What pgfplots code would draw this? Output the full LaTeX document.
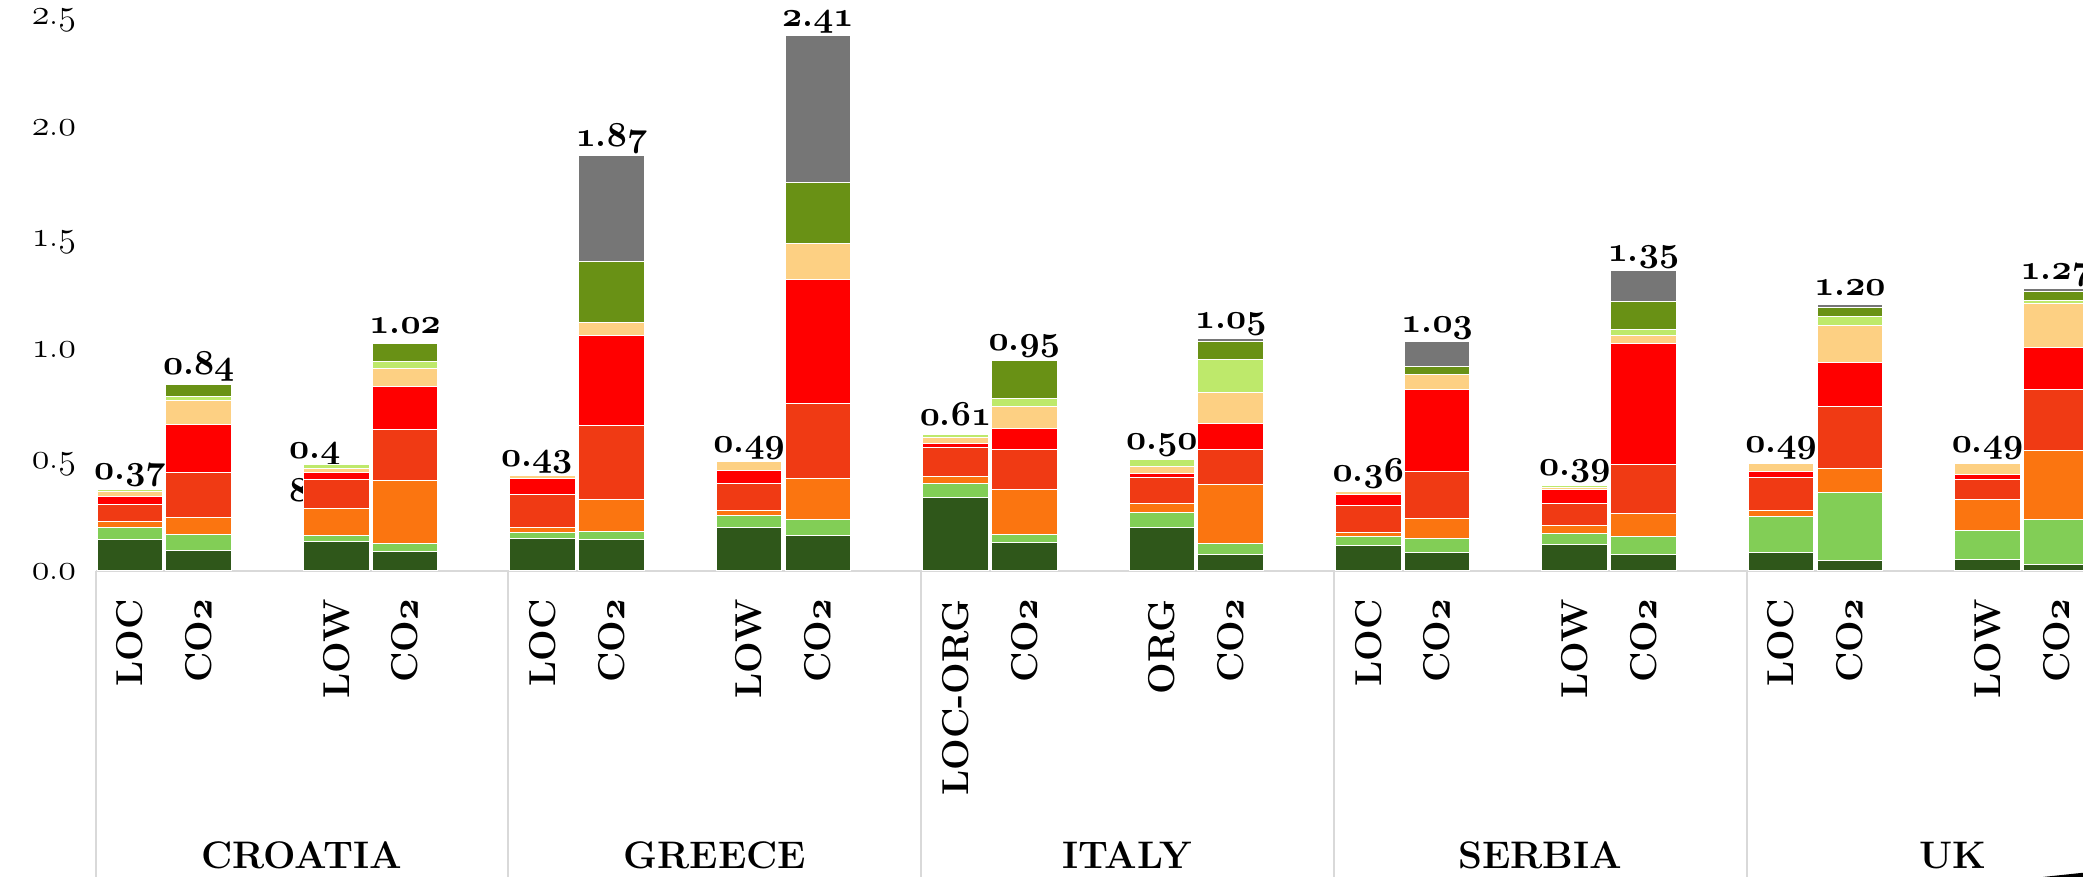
\documentclass[border=0pt]{standalone}
\usepackage{pgfplots}
\pgfplotsset{compat=1.18}
\usetikzlibrary{calc}
\definecolor{cDG}{HTML}{2F571A}
\definecolor{cLG}{HTML}{82CE56}
\definecolor{cOR}{HTML}{FB7510}
\definecolor{cRO}{HTML}{F03A14}
\definecolor{cRD}{HTML}{FF0000}
\definecolor{cPE}{HTML}{FDD083}
\definecolor{cLI}{HTML}{BEE96B}
\definecolor{cOL}{HTML}{699115}
\definecolor{cGR}{HTML}{767676}
\definecolor{cSEP}{HTML}{D9D9D9}
\DeclareFontFamily{OML}{mycmm}{\skewchar\font=127 }
\DeclareFontShape{OML}{mycmm}{m}{it}{<-> cmmi12}{}
\DeclareFontShape{OML}{mycmm}{b}{it}{<-> cmmib10}{}
\DeclareRobustCommand\ob[1]{{\usefont{OML}{mycmm}{b}{it}#1}}
\DeclareRobustCommand\om[1]{{\usefont{OML}{mycmm}{m}{it}#1}}
\DeclareRobustCommand\vl[2]{\ob{#1}.\ob{#2}}
\tikzset{
  vlab/.style={anchor=base, yshift=4.75pt, inner sep=0pt, font=\bfseries\fontsize{17.5}{20}\selectfont},
  clab/.style={anchor=base, inner sep=0pt, yshift=-148.65pt, font=\bfseries\fontsize{19.2}{22}\selectfont},
  sep/.style={draw=cSEP, line width=1pt},
}
\pgfplotsset{bst/.style={draw=white, line width=0.5pt}}
\begin{document}
\begin{tikzpicture}
\begin{axis}[
  name=ax,
  scale only axis,
  width=993.75pt, height=277.6pt,
  xmin=0, xmax=28.888, ymin=0, ymax=2.5,
  ybar stacked, bar width=0.955,
  clip=false,
  axis x line*=bottom, axis y line*=left,
  x axis line style={draw=cSEP, line width=1pt},
  y axis line style={draw=none},
  major tick length=0pt,
  xtick style={draw=none}, ytick style={draw=none},
  xtick={0.5,1.5,3.5,4.5,6.5,7.5,9.5,10.5,12.5,13.5,15.5,16.5,18.5,19.5,21.5,22.5,24.5,25.5,27.5,28.5},
  xticklabels={LOC,CO\ob{2},LOW,CO\ob{2},LOC,CO\ob{2},LOW,CO\ob{2},LOC-ORG,CO\ob{2},ORG,CO\ob{2},LOC,CO\ob{2},LOW,CO\ob{2},LOC,CO\ob{2},LOW,CO\ob{2}},
  xticklabel style={font=\bfseries\fontsize{18.7}{21}\selectfont, yshift=-14pt, rotate=90, anchor=east, inner sep=0pt},
  ytick={0,0.5,1,1.5,2,2.5},
  yticklabels={\om{0}.\om{0},\om{0}.\om{5},\om{1}.\om{0},\om{1}.\om{5},\om{2}.\om{0},\om{2}.\om{5}},
  yticklabel style={font=\fontsize{18}{21}\selectfont, anchor=base east, inner sep=0pt, xshift=-9.5pt, yshift=-4.5pt},
]
% dark green
\addplot[bst, fill=cDG] coordinates {(0.5,.143) (1.5,.093) (3.5,.134) (4.5,.086) (6.5,.144) (7.5,.140) (9.5,.194) (10.5,.158) (12.5,.333) (13.5,.128) (15.5,.194) (16.5,.072) (18.5,.113) (19.5,.083) (21.5,.120) (22.5,.075) (24.5,.083) (25.5,.045) (27.5,.053) (28.5,.027)};
% light green
\addplot[bst, fill=cLG] coordinates {(0.5,.054) (1.5,.072) (3.5,.026) (4.5,.038) (6.5,.030) (7.5,.039) (9.5,.056) (10.5,.072) (12.5,.062) (13.5,.038) (15.5,.071) (16.5,.050) (18.5,.041) (19.5,.065) (21.5,.050) (22.5,.078) (24.5,.162) (25.5,.309) (27.5,.128) (28.5,.206)};
% orange
\addplot[bst, fill=cOR] coordinates {(0.5,.027) (1.5,.075) (3.5,.119) (4.5,.284) (6.5,.021) (7.5,.141) (9.5,.021) (10.5,.188) (12.5,.029) (13.5,.200) (15.5,.038) (16.5,.267) (18.5,.020) (19.5,.087) (21.5,.036) (22.5,.104) (24.5,.026) (25.5,.107) (27.5,.140) (28.5,.311)};
% red-orange
\addplot[bst, fill=cRO] coordinates {(0.5,.077) (1.5,.204) (3.5,.135) (4.5,.231) (6.5,.150) (7.5,.333) (9.5,.125) (10.5,.338) (12.5,.131) (13.5,.179) (15.5,.120) (16.5,.159) (18.5,.119) (19.5,.212) (21.5,.099) (22.5,.221) (24.5,.152) (25.5,.278) (27.5,.090) (28.5,.272)};
% red
\addplot[bst, fill=cRD] coordinates {(0.5,.036) (1.5,.216) (3.5,.029) (4.5,.192) (6.5,.071) (7.5,.405) (9.5,.057) (10.5,.555) (12.5,.020) (13.5,.096) (15.5,.017) (16.5,.116) (18.5,.050) (19.5,.368) (21.5,.062) (22.5,.545) (24.5,.024) (25.5,.201) (27.5,.023) (28.5,.189)};
% peach
\addplot[bst, fill=cPE] coordinates {(0.5,.020) (1.5,.107) (3.5,.017) (4.5,.081) (6.5,.012) (7.5,.060) (9.5,.039) (10.5,.165) (12.5,.027) (13.5,.101) (15.5,.029) (16.5,.138) (18.5,.015) (19.5,.069) (21.5,.008) (22.5,.039) (24.5,.038) (25.5,.167) (27.5,.052) (28.5,.198)};
% lime
\addplot[bst, fill=cLI] coordinates {(0.5,.011) (1.5,.020) (3.5,.018) (4.5,.030) (6.5,0) (7.5,0) (9.5,0) (10.5,0) (12.5,.012) (13.5,.033) (15.5,.033) (16.5,.152) (18.5,0) (19.5,0) (21.5,.012) (22.5,.027) (24.5,.005) (25.5,.039) (27.5,.003) (28.5,.014)};
% olive
\addplot[bst, fill=cOL] coordinates {(0.5,0) (1.5,.053) (3.5,0) (4.5,.083) (6.5,0) (7.5,.275) (9.5,0) (10.5,.275) (12.5,0) (13.5,.171) (15.5,0) (16.5,.080) (18.5,0) (19.5,.038) (21.5,0) (22.5,.125) (24.5,0) (25.5,.041) (27.5,0) (28.5,.042)};
% gray
\addplot[bst, fill=cGR] coordinates {(0.5,0) (1.5,0) (3.5,0) (4.5,0) (6.5,0) (7.5,.477) (9.5,0) (10.5,.660) (12.5,0) (13.5,.006) (15.5,0) (16.5,.014) (18.5,0) (19.5,.111) (21.5,0) (22.5,.138) (24.5,0) (25.5,.012) (27.5,0) (28.5,.011)};
\draw[sep] (axis cs:0,0) -- ++(0pt,-153pt);
\draw[sep] (axis cs:6,0) -- ++(0pt,-153pt);
\draw[sep] (axis cs:12,0) -- ++(0pt,-153pt);
\draw[sep] (axis cs:18,0) -- ++(0pt,-153pt);
\draw[sep] (axis cs:24,0) -- ++(0pt,-153pt);
\node[vlab] at (axis cs:0.5,0.368) {\vl{0}{37}};
\node[vlab] at (axis cs:1.5,0.840) {\vl{0}{84}};
\node[vlab] at (axis cs:4.5,1.025) {\vl{1}{02}};
\node[vlab, xshift=-3pt] at (axis cs:6.5,0.428) {\vl{0}{43}};
\node[vlab] at (axis cs:7.5,1.870) {\vl{1}{87}};
\node[vlab] at (axis cs:9.5,0.492) {\vl{0}{49}};
\node[vlab] at (axis cs:10.5,2.411) {\vl{2}{41}};
\node[vlab] at (axis cs:12.5,0.614) {\vl{0}{61}};
\node[vlab] at (axis cs:13.5,0.952) {\vl{0}{95}};
\node[vlab] at (axis cs:15.5,0.502) {\vl{0}{50}};
\node[vlab] at (axis cs:16.5,1.048) {\vl{1}{05}};
\node[vlab] at (axis cs:18.5,0.358) {\vl{0}{36}};
\node[vlab] at (axis cs:19.5,1.033) {\vl{1}{03}};
\node[vlab] at (axis cs:21.5,0.387) {\vl{0}{39}};
\node[vlab] at (axis cs:22.5,1.352) {\vl{1}{35}};
\node[vlab] at (axis cs:24.5,0.490) {\vl{0}{49}};
\node[vlab] at (axis cs:25.5,1.199) {\vl{1}{20}};
\node[vlab] at (axis cs:27.5,0.489) {\vl{0}{49}};
\node[vlab] at (axis cs:28.5,1.270) {\vl{1}{27}};
\node[vlab, anchor=base west, xshift=-23.75pt, yshift=-1.4pt] at (axis cs:3.5,0.478) {\ob{0}.\ob{4}};
\node[vlab, anchor=base west, xshift=-23.75pt, yshift=-23.1pt] at (axis cs:3.5,0.478) {\ob{8}};
\node[clab] at (axis cs:3,0) {CROATIA};
\node[clab] at (axis cs:9,0) {GREECE};
\node[clab] at (axis cs:15,0) {ITALY};
\node[clab] at (axis cs:21,0) {SERBIA};
\node[clab] at (axis cs:27,0) {UK};
\end{axis}
\fill[black] ($(ax.south east)+(-20pt,-153pt)$) -- ($(ax.south east)+(0pt,-150.9pt)$) -- ($(ax.south east)+(0pt,-153pt)$) -- cycle;
\pgfresetboundingbox
\path[use as bounding box] ($(ax.south west)+(-47.75pt,-153pt)$) rectangle ($(ax.north east)+(0pt,7.875pt)$);
\end{tikzpicture}
\end{document}
